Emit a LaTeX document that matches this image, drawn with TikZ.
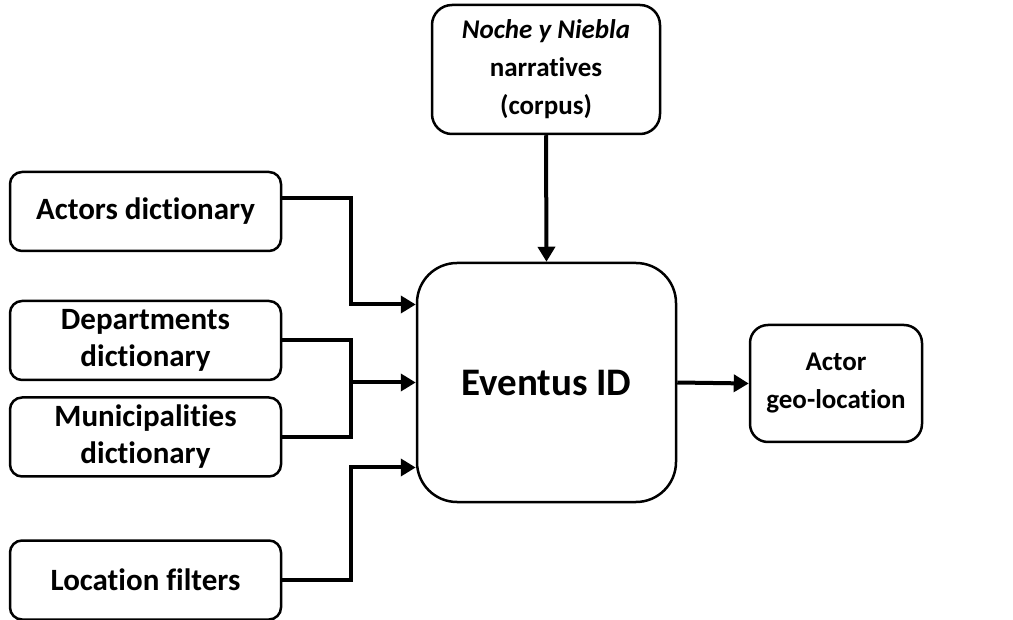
\documentclass[tikz,border=0pt]{standalone}
\usepackage{fontspec}
\setmainfont{Carlito}[Ligatures=NoCommon]
\usetikzlibrary{arrows.meta}

\begin{document}
\begin{tikzpicture}[x=1pt,y=-1pt,%
  every node/.style={draw,line width=2.5pt,align=center,inner sep=0pt,
    font=\bfseries\fontsize{27}{38}\selectfont},
  dictbox/.style={rounded corners=12pt,minimum width=271pt,minimum height=79pt,
    font=\bfseries\fontsize{31}{37}\selectfont},
  flow/.style={line width=4pt,-{Triangle[length=15pt,width=17pt]}},
  bus/.style={line width=4pt}]
  \useasboundingbox (0,0) rectangle (1013,620);
  % the vertices
  \node[dictbox] (actors) at (145.5,211.5) {Actors dictionary};
  \node[dictbox] (depts) at (145.5,340.5) {Departments\\dictionary};
  \node[dictbox] (munis) at (145.5,437) {Municipalities\\dictionary};
  \node[dictbox] (filters) at (145.5,580) {Location filters};
  \node[rounded corners=20pt,minimum width=228pt,minimum height=129pt] (corpus) at (546,69.5) {\textit{Noche y Niebla}\\narratives\\(corpus)};
  \node[rounded corners=40pt,minimum width=259pt,minimum height=239pt,font=\bfseries\fontsize{39}{46}\selectfont] (eventus) at (546.5,382.5) {Eventus ID};
  \node[rounded corners=18pt,minimum width=172pt,minimum height=117pt] (geoloc) at (836,383.5) {Actor\\geo-location};
  % the edges
  \draw[flow] ([yshift=13pt]actors.east) -- ++(69,0) |- ([yshift=78pt]eventus.west);
  \draw[bus] (depts.east) -- ++(69,0) coordinate (join) |- (munis.east);
  \draw[flow] (join |- eventus.west) -- (eventus.west);
  \draw[flow] (filters.east) -- ++(69,0) |- ([yshift=-85pt]eventus.west);
  \draw[flow] (corpus.south) -- (eventus.north);
  \draw[flow] (eventus.east) -- (geoloc.west);
\end{tikzpicture}
\end{document}
